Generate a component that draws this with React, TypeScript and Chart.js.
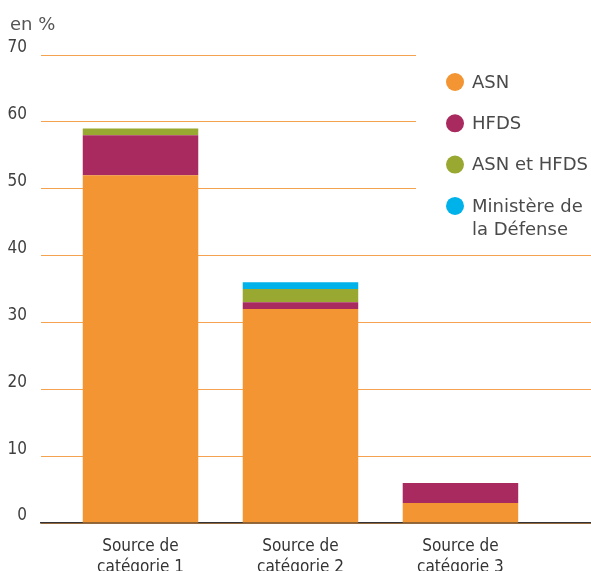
import { useEffect, useRef } from "react";
import { Chart, registerables } from "chart.js";

Chart.register(...registerables);

// ---- Data ----
const categoryLabels: string[][] = [
  ["Source de", "catégorie 1"],
  ["Source de", "catégorie 2"],
  ["Source de", "catégorie 3"],
];
const seriesNames: string[] = ["ASN", "HFDS", "ASN et HFDS", "Ministère de la Défense"];
const legendLines: string[][] = [["ASN"], ["HFDS"], ["ASN et HFDS"], ["Ministère de", "la Défense"]];
const asnValues: number[] = [52, 32, 3];
const hfdsValues: number[] = [6, 1, 3];
const asnHfdsValues: number[] = [1, 2, 0];
const defenseValues: number[] = [0, 1, 0];
const yTickValues: number[] = [0, 10, 20, 30, 40, 50, 60, 70];
const yUnit = "en %";

// ---- Styles ----
const seriesColors = ["#f29532", "#a82a5f", "#98a831", "#00b2ea"];
const NARROW = "'Liberation Sans Narrow', 'DejaVu Sans Condensed', 'Roboto Condensed', sans-serif";
const SANS = "'DejaVu Sans', sans-serif";

const allSeries = [asnValues, hfdsValues, asnHfdsValues, defenseValues];

const overlayPlugin = {
  id: "overlay",
  afterDraw(chart: any) {
    const ctx = chart.ctx as CanvasRenderingContext2D;
    ctx.save();
    // unit label
    ctx.fillStyle = "#555555";
    ctx.font = `18px ${SANS}`;
    ctx.textAlign = "left";
    ctx.textBaseline = "alphabetic";
    ctx.fillText(yUnit, 10, 30);

    // legend box (covers gridlines)
    const area = chart.chartArea;
    const boxLeft = 416;
    ctx.fillStyle = "#ffffff";
    ctx.fillRect(boxLeft, area.top - 5, chart.width - boxLeft, 190);

    const cx = 455;
    const tx = 472;
    const startY = 82;
    const gap = 41.3;
    ctx.font = `18px ${SANS}`;
    ctx.textBaseline = "middle";
    chart.data.datasets.forEach((ds: any, i: number) => {
      const cy = startY + i * gap;
      ctx.beginPath();
      ctx.arc(cx, cy, 9, 0, Math.PI * 2);
      ctx.fillStyle = ds.backgroundColor;
      ctx.fill();
      ctx.fillStyle = "#4a4a4a";
      legendLines[i].forEach((line, j) => {
        ctx.fillText(line, tx, cy + 1 + j * 23);
      });
    });
    ctx.restore();
  },
};

export default function App() {
  const canvasRef = useRef<HTMLCanvasElement | null>(null);

  useEffect(() => {
    if (!canvasRef.current) return;
    const chart = new Chart(canvasRef.current, {
      type: "bar",
      data: {
        datasets: allSeries.map((vals, s) => ({
          label: seriesNames[s],
          data: vals.map((v, i) => ({ x: i + 1, y: v })),
          backgroundColor: seriesColors[s],
          borderWidth: 0,
          categoryPercentage: 1,
          barPercentage: 0.722,
        })),
      },
      options: {
        animation: false,
        responsive: true,
        maintainAspectRatio: false,
        layout: { padding: { top: 55, left: 0, right: 0, bottom: 0 } },
        plugins: {
          legend: { display: false },
          tooltip: { enabled: false },
          title: { display: false },
        },
        scales: {
          x: {
            type: "linear",
            stacked: true,
            offset: false,
            min: 0.378,
            max: 3.816,
            grid: { display: false, offset: false },
            border: { display: true, color: "#333333", width: 1.5 },
            afterBuildTicks: (scale: any) => {
              scale.ticks = categoryLabels.map((_, i) => ({ value: i + 1 }));
            },
            afterFit: (scale: any) => {
              scale.height = 48;
            },
            ticks: {
              autoSkip: false,
              maxRotation: 0,
              padding: 5,
              color: "#333333",
              font: { family: NARROW, size: 17, lineHeight: 1.25 },
              callback: (value: any) => categoryLabels[Number(value) - 1] ?? "",
            },
          },
          y: {
            stacked: true,
            min: 0,
            max: 70,
            afterBuildTicks: (scale: any) => {
              scale.ticks = yTickValues.map((v) => ({ value: v }));
            },
            afterFit: (scale: any) => {
              scale.width = 41;
            },
            grid: { color: "#f4a24f", lineWidth: 1, drawTicks: false },
            border: { display: false },
            ticks: {
              padding: 14,
              labelOffset: -7,
              color: "#404040",
              font: { family: NARROW, size: 17 },
            },
          },
        },
      },
      plugins: [overlayPlugin],
    } as any);
    return () => chart.destroy();
  }, []);

  return (
    <div style={{ position: "fixed", left: 0, top: 0, width: 591, height: 571, background: "#fff" }}>
      <canvas ref={canvasRef} />
    </div>
  );
}
